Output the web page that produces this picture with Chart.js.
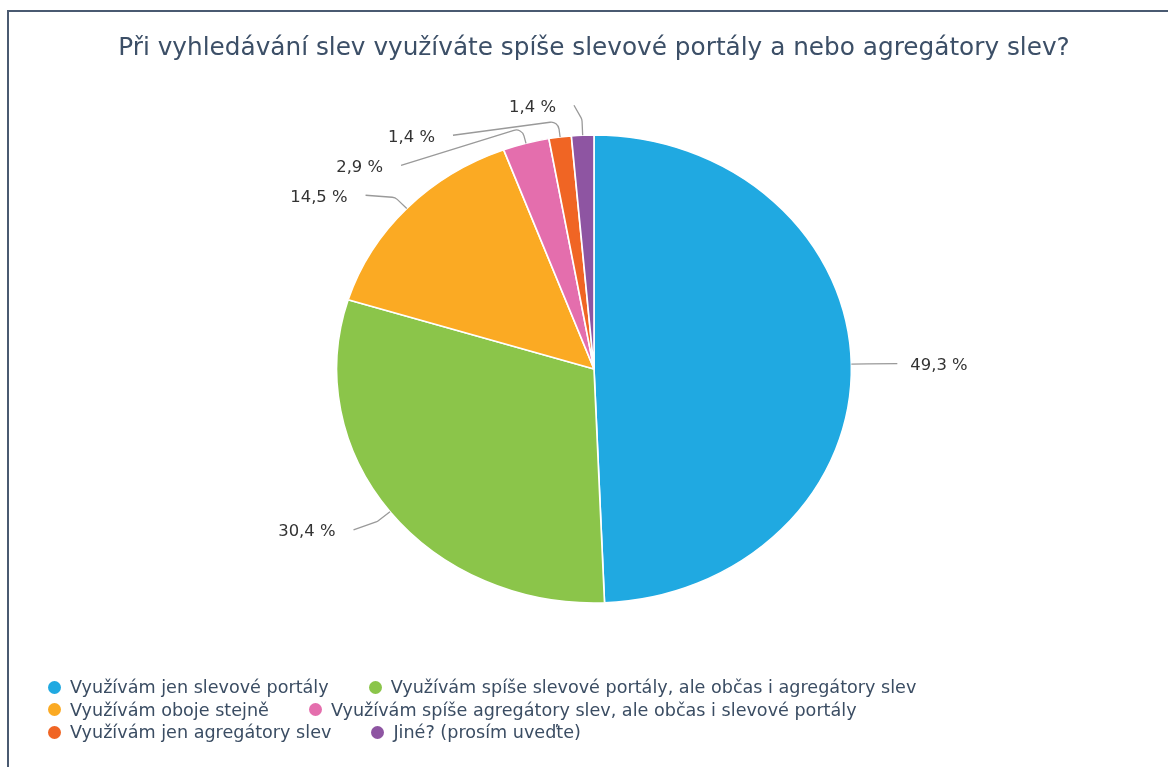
<!DOCTYPE html>
<html>
<head>
<meta charset="utf-8">
<script src="https://cdn.jsdelivr.net/npm/chart.js@4"></script>
<style>
  html, body { margin: 0; padding: 0; background: #fff; }
  #wrap { position: relative; width: 1168px; height: 767px; overflow: hidden; }
  #frame { position: absolute; left: 7px; top: 10px; right: -20px; bottom: -20px;
           border-top: 2px solid #4a5a71; border-left: 2px solid #4a5a71; }
  canvas { position: absolute; left: 0; top: 0; }
  #legend { position: absolute; left: 48px; top: 676px; width: 1000px;
            font-family: "DejaVu Sans", sans-serif; font-size: 17.6px; color: #3b4d63; }
  #legend .item { display: inline-flex; align-items: center; height: 22.5px; margin-right: 40px; white-space: nowrap; vertical-align: top; }
  #legend .dot { display: inline-block; width: 13px; height: 13px; border-radius: 50%; margin-right: 9px; }
</style>
</head>
<body>
<div id="wrap">
  <div id="frame"></div>
  <canvas id="c" width="1168" height="767"></canvas>
  <div id="legend"></div>
</div>
<script>
const chartTitle = 'Při vyhledávání slev využíváte spíše slevové portály a nebo agregátory slev?';
const categories = [
  'Využívám jen slevové portály',
  'Využívám spíše slevové portály, ale občas i agregátory slev',
  'Využívám oboje stejně',
  'Využívám spíše agregátory slev, ale občas i slevové portály',
  'Využívám jen agregátory slev',
  'Jiné? (prosím uveďte)'
];
const percentages = [49.3, 30.4, 14.5, 2.9, 1.4, 1.4];
const sliceColors = ['#20a9e1', '#8bc54a', '#fbaa23', '#e46ead', '#f06524', '#8e55a2'];

const SCALE_X = 1.1;

const ellipsePlugin = {
  id: 'ellipse',
  beforeDatasetsDraw(chart) {
    const arc = chart.getDatasetMeta(0).data[0];
    if (!arc) return;
    const ctx = chart.ctx;
    ctx.save();
    ctx.translate(arc.x, arc.y);
    ctx.scale(SCALE_X, 1);
    ctx.translate(-arc.x, -arc.y);
  },
  afterDatasetsDraw(chart) {
    chart.ctx.restore();
  }
};

const outerLabels = {
  id: 'outerLabels',
  afterDraw(chart) {
    const ctx = chart.ctx;
    const meta = chart.getDatasetMeta(0);
    const items = meta.data.map((arc, i) => {
      const p = arc.getProps(['x', 'y', 'startAngle', 'endAngle', 'outerRadius'], true);
      const mid = (p.startAngle + p.endAngle) / 2;
      const r = p.outerRadius;
      const cos = Math.cos(mid), sin = Math.sin(mid);
      return {
        i, cx: p.x, cy: p.y, r, cos, sin,
        right: cos >= 0,
        ax: p.x + SCALE_X * r * cos,
        ay: p.y + r * sin,
        ny: p.y + (r + 30) * sin
      };
    });
    ['left', 'right'].forEach(side => {
      const group = items.filter(it => (side === 'right') === it.right).sort((a, b) => a.ny - b.ny);
      let prev = -Infinity;
      group.forEach(it => { it.ly = Math.max(it.ny, prev + 30); prev = it.ly; });
    });
    ctx.save();
    ctx.font = '16.4px "DejaVu Sans", sans-serif';
    ctx.textBaseline = 'middle';
    items.forEach(it => {
      const RX = SCALE_X * it.r + 46, RY = it.r + 30;
      const t = Math.max(-1, Math.min(1, (it.ly - it.cy) / RY));
      const kx = it.ax + it.cos * 16, ky = it.ay + it.sin * 16;
      let lx = it.cx + (it.right ? 1 : -1) * RX * Math.sqrt(1 - t * t);
      lx = it.right ? Math.max(lx, kx + 8) : Math.min(lx, kx - 8);
      ctx.strokeStyle = '#9a9a9a';
      ctx.lineWidth = 1.3;
      ctx.beginPath();
      ctx.moveTo(it.ax, it.ay);
      ctx.arcTo(kx, ky, lx, it.ly, 8);
      ctx.lineTo(lx, it.ly);
      ctx.stroke();
      const txt = percentages[it.i].toFixed(1).replace('.', ',') + ' %';
      ctx.fillStyle = '#333333';
      if (it.right) { ctx.textAlign = 'left'; ctx.fillText(txt, lx + 13, it.ly + 2); }
      else { ctx.textAlign = 'right'; ctx.fillText(txt, lx - 18, it.ly + 2); }
    });
    ctx.restore();
  }
};

const chart = new Chart(document.getElementById('c'), {
  type: 'pie',
  data: {
    labels: categories,
    datasets: [{
      data: percentages,
      backgroundColor: sliceColors,
      borderColor: '#ffffff',
      borderWidth: 1.5,
      hoverOffset: 0,
      radius: 234
    }]
  },
  options: {
    responsive: false,
    animation: false,
    layout: { padding: { left: 20, right: 0, top: 0, bottom: 164 } },
    plugins: {
      legend: { display: false },
      tooltip: { enabled: false },
      title: {
        display: true,
        text: chartTitle,
        color: '#3c4f67',
        font: { family: '"DejaVu Sans", sans-serif', size: 24.75, weight: 'normal', lineHeight: 1.2 },
        padding: { top: 34, bottom: 71.3 }
      }
    }
  },
  plugins: [ellipsePlugin, outerLabels]
});

const legendEl = document.getElementById('legend');
chart.options.plugins.legend.labels.generateLabels(chart).forEach(item => {
  const div = document.createElement('span');
  div.className = 'item';
  const dot = document.createElement('span');
  dot.className = 'dot';
  dot.style.background = item.fillStyle;
  const txt = document.createElement('span');
  txt.textContent = item.text;
  div.appendChild(dot);
  div.appendChild(txt);
  legendEl.appendChild(div);
});
</script>
</body>
</html>
